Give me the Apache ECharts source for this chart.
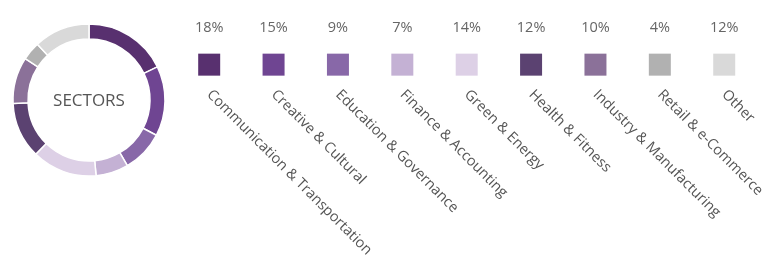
<!DOCTYPE html>
<html><head><meta charset="utf-8">
<script src="https://cdn.jsdelivr.net/npm/echarts@6/dist/echarts.min.js"></script>
<style>html,body{margin:0;padding:0;background:#fff}#c{width:770px;height:260px}</style>
</head><body><div id="c"></div>
<script>
var categories = ["Communication & Transportation","Creative & Cultural","Education & Governance","Finance & Accounting","Green & Energy","Health & Fitness","Industry & Manufacturing","Retail & e-Commerce","Other"];
var values = [18,15,9,7,14,12,10,4,12];
var colors = ["#58306f","#6f4592","#8868a8","#c4b1d4","#ddd0e6","#5b4271","#8b7199","#b1b1b1","#d9d9d9"];
var centerTitle = "SECTORS";

var chart = echarts.init(document.getElementById('c'), null, {renderer:'canvas'});
var font = '"Open Sans", Lato, sans-serif';
chart.setOption({
  animation:false,
  graphic:[{type:'text',x:89,y:101,style:{text:centerTitle,align:'center',verticalAlign:'middle',
    font:'17px "Open Sans", sans-serif',fill:'#555'}}],
  grid:{left:177,right:13.6,top:53,height:24},
  xAxis:{type:'category',data:categories,axisLine:{show:false},axisTick:{show:false},
    axisLabel:{rotate:-45,interval:0,margin:16,fontFamily:font,fontSize:14.5,color:'#555'}},
  yAxis:{type:'value',min:0,max:1,show:false},
  series:[
    {type:'pie',center:[89,100],radius:[61,76],startAngle:90,clockwise:true,label:{show:false},
     itemStyle:{borderColor:'#fff',borderWidth:1.5},silent:true,
     data:values.map(function(v,i){return {value:v,name:categories[i],itemStyle:{color:colors[i]}};})},
    {type:'scatter',symbol:'rect',symbolSize:[22,22],silent:true,
     data:values.map(function(v,i){return {value:[i,0.5],itemStyle:{color:colors[i],opacity:1}};}),
     label:{show:true,position:'top',distance:18,fontFamily:font,fontSize:14.5,color:'#666',
       formatter:function(p){return values[p.dataIndex]+'%';}}}
  ]
});
</script></body></html>
